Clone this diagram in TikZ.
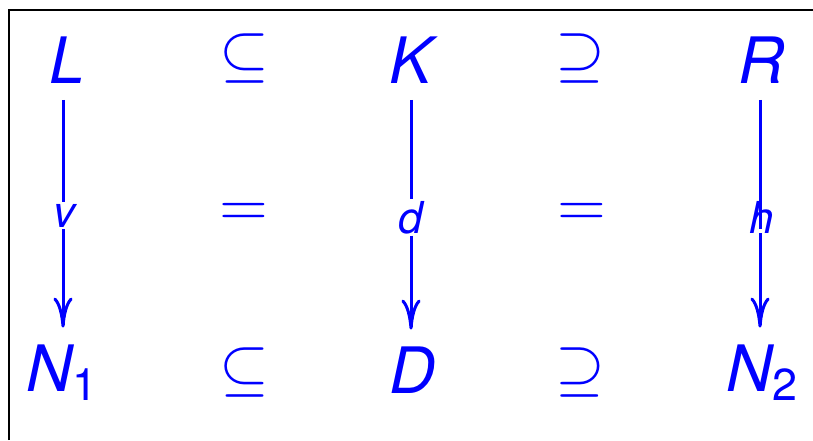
\documentclass[tikz,border=0pt]{standalone}
\usepackage{fix-cm}
\usepackage{fontspec}
\setmainfont{TeX Gyre Heros}
\usetikzlibrary{arrows.meta}
\definecolor{diagblue}{RGB}{0,0,255}
\newcommand{\subidx}[1]{{\upshape\fontsize{11.2}{13}\selectfont\raisebox{-2.25pt}{#1}}}
\begin{document}
\begin{tikzpicture}[x=0.25pt,y=-0.25pt,
  big/.style={text=diagblue, inner sep=0pt, outer sep=4.2pt, anchor=base, font=\fontsize{16}{19}\selectfont\itshape},
  rel/.style={text=diagblue, inner sep=0pt, anchor=base, font=\fontsize{16}{19}\selectfont},
  lab/.style={text=diagblue, inner sep=0pt, outer sep=0.5pt, anchor=base, font=\fontsize{11}{13}\selectfont\itshape},
  arr/.style={draw=diagblue, line width=0.75pt},
  tipped/.style={-{To[length=7.5pt,width=4.8pt]}}]
\useasboundingbox (0,0) rectangle (813,440);
\draw[line width=0.6pt] (9.2,440) -- (9.2,9.7) -- (813,9.7);
% columns
\coordinate (c1) at (63,0);
\coordinate (c2) at (411,0);
\coordinate (c3) at (760,0);
% top row
\node[big] (L) at (67,83) {L};
\node[rel] (s1) at (244,74) {$\subseteq$};
\node[big] (K) at (411,83) {K};
\node[rel] (s2) at (580,74) {$\supseteq$};
\node[big] (R) at (762,83) {R};
% middle row
\node[lab] (v) at (64,227) {v};
\node[rel] (e1) at (244,226) {$=$};
\node[lab] (d) at (411,233) {d};
\node[rel] (e2) at (582,226) {$=$};
% bottom row
\node[big] (N1) at (62,391) {N\subidx{1}};
\node[rel] (s3) at (244,388) {$\subseteq$};
\node[big] (D) at (413,393) {D};
\node[rel] (s4) at (580,388) {$\supseteq$};
\node[big] (N2) at (762,391) {N\subidx{2}};
% arrows
\draw[arr] (c1 |- L.south) -- (c1 |- v.north);
\draw[arr,tipped] (c1 |- v.south) -- (c1 |- N1.north);
\draw[arr] (c2 |- K.south) -- (c2 |- d.north);
\draw[arr,tipped] (c2 |- d.south) -- (c2 |- D.north);
\coordinate (hA) at (760,229);
\coordinate (hB) at (760,233);
\draw[arr] (c3 |- R.south) -- (hA);
\draw[arr,tipped] (hB) -- (c3 |- N2.north);
\node[lab] (h) at (762,233) {h};
\end{tikzpicture}
\end{document}
